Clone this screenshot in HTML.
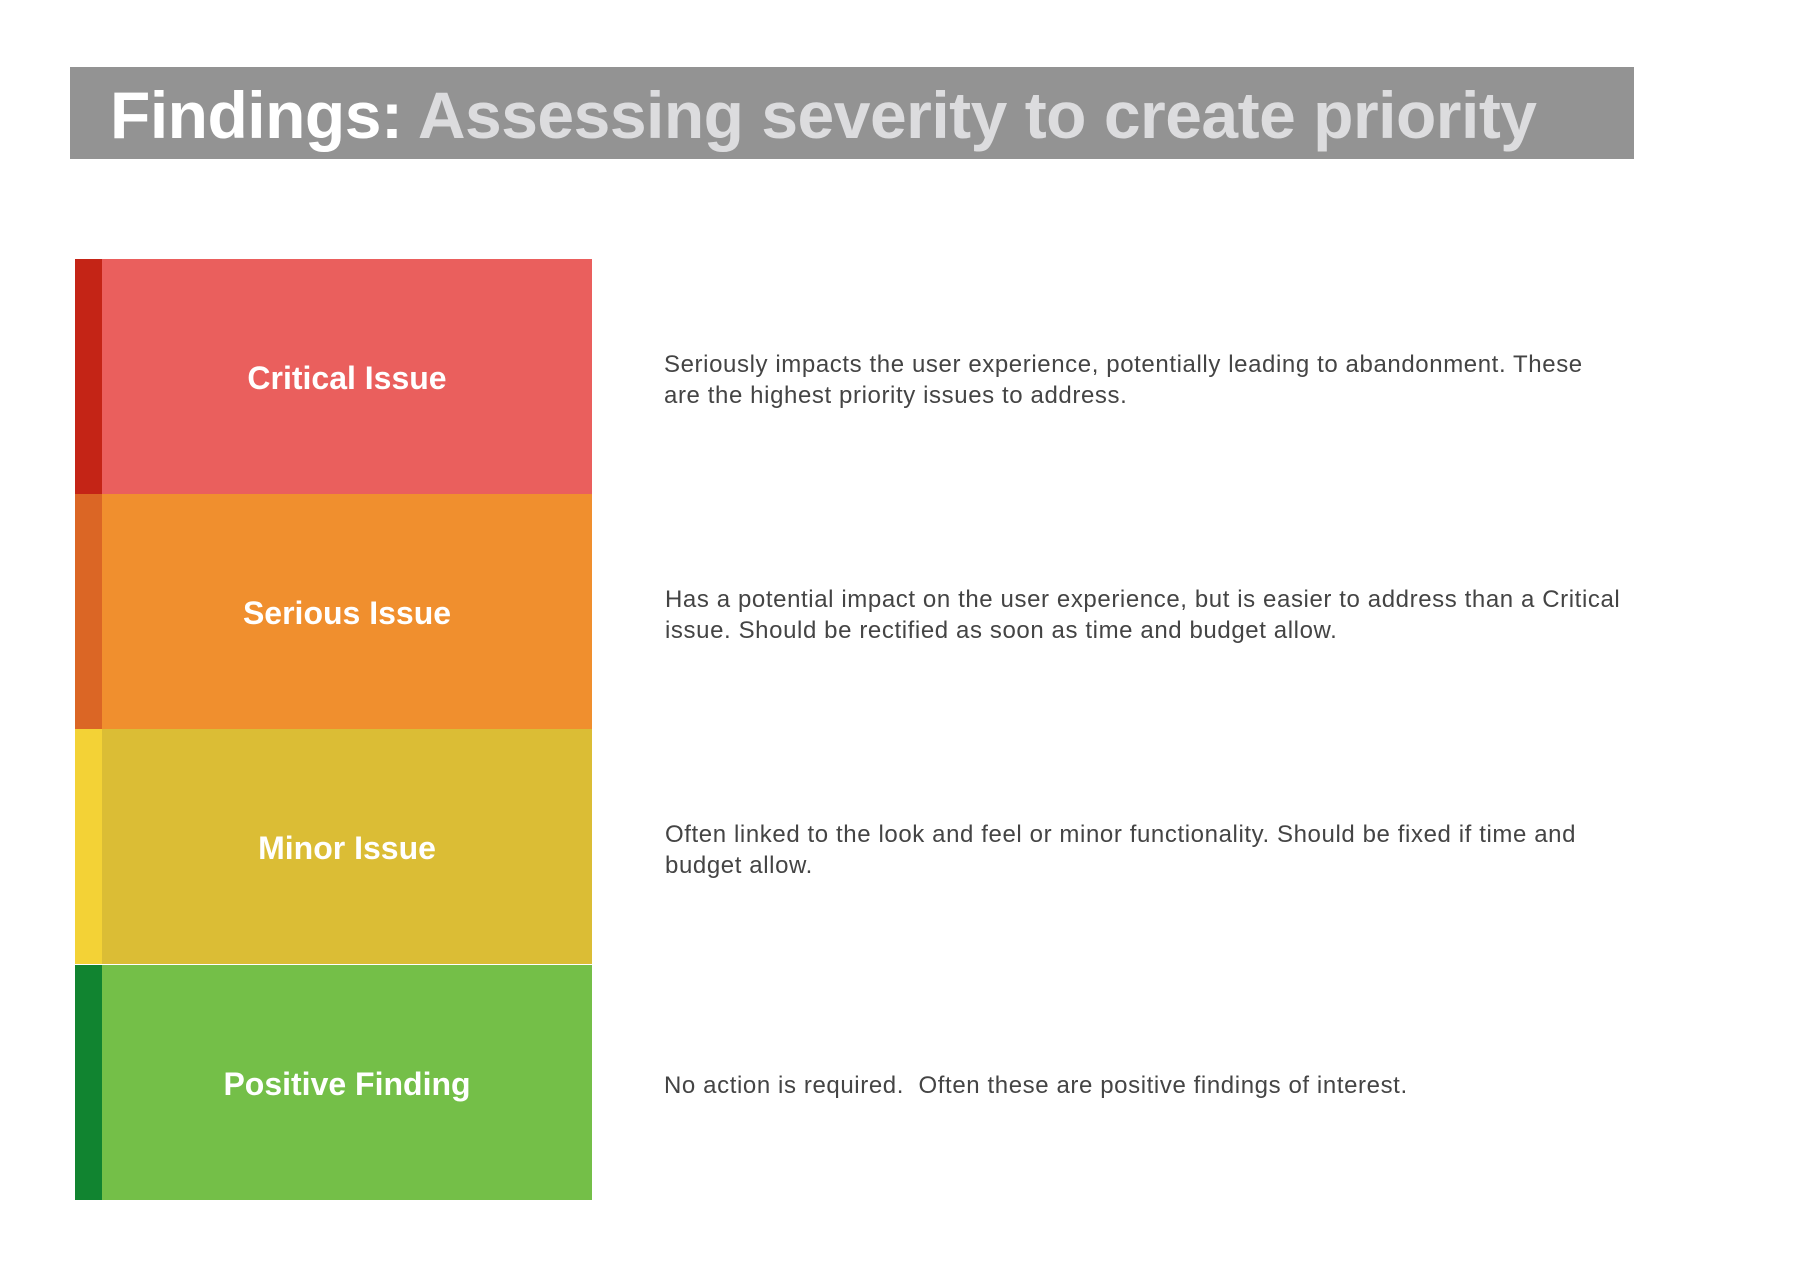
<!DOCTYPE html>
<html><head><meta charset="utf-8"><style>
*{margin:0;padding:0}
body{width:1816px;height:1284px;background:#fff;position:relative;overflow:hidden;font-family:"Liberation Sans",Arial,sans-serif}
.title{position:absolute;left:70px;top:67px;width:1564px;height:92px;background:#939393}
.title span{position:absolute;left:40px;top:10px;font-size:66px;font-weight:bold;white-space:nowrap;letter-spacing:-0.5px}
.row{position:absolute;left:75px;width:517px;height:235px}
.strip{position:absolute;left:0;top:0;width:27px;height:100%}
.lab{position:absolute;left:27px;right:0;top:0;bottom:0;padding-top:4px;display:flex;align-items:center;justify-content:center;color:#fff;font-weight:bold;font-size:32px}
.desc{position:absolute;left:664px;font-size:24px;letter-spacing:0.6px;color:#444;line-height:31px;width:1100px;white-space:nowrap}
</style></head><body>
<div class="title"><span><span style="position:static;color:#fff">Findings:</span> <span style="position:static;color:#dcdcde">Assessing severity to create priority</span></span></div>

<div class="row" style="top:259px;background:#ea5f5d"><div class="strip" style="background:#c42416"></div><div class="lab">Critical Issue</div></div>
<div class="row" style="top:494px;background:#f08f2e"><div class="strip" style="background:#db6625"></div><div class="lab">Serious Issue</div></div>
<div class="row" style="top:729px;background:#dbbd35"><div class="strip" style="background:#f3d236"></div><div class="lab">Minor Issue</div></div>
<div class="row" style="top:965px;height:235px;background:#74bf48"><div class="strip" style="background:#118430"></div><div class="lab">Positive Finding</div></div>

<div class="desc" style="top:349px">Seriously impacts the user experience, potentially leading to abandonment. These<br>are the highest priority issues to address.</div>
<div class="desc" style="top:584px;left:665px">Has a potential impact on the user experience, but is easier to address than a Critical<br>issue. Should be rectified as soon as time and budget allow.</div>
<div class="desc" style="top:819px;left:665px">Often linked to the look and feel or minor functionality. Should be fixed if time and<br>budget allow.</div>
<div class="desc" style="top:1070px">No action is required.&nbsp; Often these are positive findings of interest.</div>
</body></html>
